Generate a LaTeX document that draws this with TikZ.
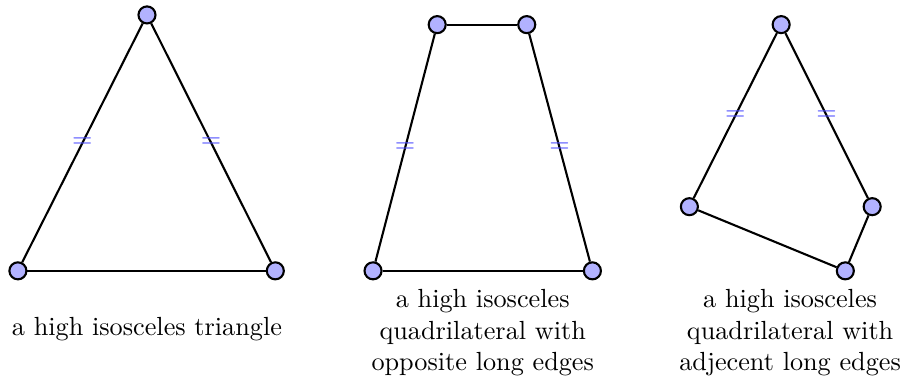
\documentclass[tikz,border=0pt]{standalone}
\usepackage{tikz}
\usetikzlibrary{positioning}

\tikzset{
  vertex/.style={circle,draw=black,fill=blue!30,thick,inner sep=0pt,minimum size=6.5pt},
  eqmark/.style={text=blue!70,inner sep=0pt,midway},
  edge/.style={thick},
  caption/.style={align=center}
}

\begin{document}
\begin{tikzpicture}
  \useasboundingbox (0,0) rectangle (12.13,5.13);

  % Triangle
  \node[vertex] (t1) at (1.97,4.93) {};
  \node[vertex] (t2) at (0.24,1.50) {};
  \node[vertex] (t3) at (3.69,1.50) {};
  \draw[edge] (t1) -- node[eqmark] {$=$} (t2);
  \draw[edge] (t1) -- node[eqmark] {$=$} (t3);
  \draw[edge] (t2) -- (t3);
  \node[caption] (tlabel) at (1.97,0.72) {a high isosceles triangle};

  % Quadrilateral, opposite long edges
  \node[vertex] (p1) at (5.86,4.80) {};
  \node[vertex] (p2) at (7.06,4.80) {};
  \node[vertex] (p3) at (7.94,1.50) {};
  \node[vertex] (p4) at (5.00,1.50) {};
  \draw[edge] (p1) -- (p2);
  \draw[edge] (p2) -- node[eqmark] {$=$} (p3);
  \draw[edge] (p3) -- (p4);
  \draw[edge] (p4) -- node[eqmark] {$=$} (p1);
  \node[caption] (plabel) at (6.47,0.67) {a high isosceles\\quadrilateral with\\opposite long edges};

  % Quadrilateral, adjacent long edges
  \node[vertex] (q1) at (10.47,4.80) {};
  \node[vertex] (q2) at (11.69,2.36) {};
  \node[vertex] (q3) at (11.33,1.50) {};
  \node[vertex] (q4) at (9.24,2.36) {};
  \draw[edge] (q1) -- node[eqmark] {$=$} (q2);
  \draw[edge] (q2) -- (q3);
  \draw[edge] (q3) -- (q4);
  \draw[edge] (q4) -- node[eqmark] {$=$} (q1);
  \node[caption] (qlabel) at (10.59,0.67) {a high isosceles\\quadrilateral with\\adjecent long edges};
\end{tikzpicture}
\end{document}
